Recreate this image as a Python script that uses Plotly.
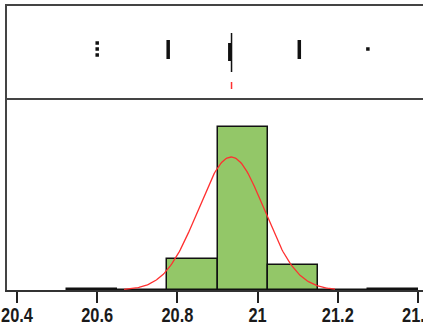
import numpy as np
import plotly.graph_objects as go

# ---- histogram data ----
bin_centers = [20.5875, 20.7125, 20.8375, 20.9625, 21.0875, 21.2125, 21.3375]
bin_counts = [0.25, 0, 6, 32, 5, 0, 0.25]
bin_width = 0.125

# ---- fitted normal ----
fit_mean = 20.934
fit_sd = 0.082
fit_n = 43
fit_lo, fit_hi = 20.667, 21.193

# ---- top strip panel (values and vertical extents in panel units 0..92) ----
dot_x = [20.6, 20.6, 20.6, 21.275]
dot_y = [55, 49, 43, 49]
stack_x = [20.777, 20.9307, 21.104]
stack_lo = [39, 37, 39]
stack_hi = [58, 55, 58]
whisker_x = 20.935
whisker_lo, whisker_hi = 26, 65
mean_x = 20.935
mean_lo, mean_hi = 9, 16

tick_vals = [20.4, 20.6, 20.8, 21.0, 21.2, 21.4]
tick_text = ["20.4", "20.6", "20.8", "21", "21.2", "21.4"]

fig = go.Figure()

fig.add_trace(go.Bar(
    x=bin_centers, y=bin_counts, width=bin_width,
    marker=dict(color="#93C768", line=dict(color="#111111", width=1.5)),
    xaxis="x", yaxis="y", showlegend=False,
))

cx = np.linspace(fit_lo, fit_hi, 200)
cy = fit_n * bin_width / (fit_sd * np.sqrt(2 * np.pi)) * np.exp(-0.5 * ((cx - fit_mean) / fit_sd) ** 2)
fig.add_trace(go.Scatter(
    x=cx, y=cy, mode="lines", line=dict(color="#FF3030", width=1.3),
    xaxis="x", yaxis="y", showlegend=False,
))

# strip panel
fig.add_trace(go.Scatter(
    x=dot_x, y=dot_y, mode="markers",
    marker=dict(symbol="square", size=3.5, color="#111111", line=dict(width=0)),
    xaxis="x2", yaxis="y2", showlegend=False,
))
for sx, lo, hi in zip(stack_x, stack_lo, stack_hi):
    fig.add_trace(go.Scatter(
        x=[sx, sx], y=[lo, hi], mode="lines",
        line=dict(color="#111111", width=3.5),
        xaxis="x2", yaxis="y2", showlegend=False,
    ))
fig.add_trace(go.Scatter(
    x=[whisker_x, whisker_x], y=[whisker_lo, whisker_hi], mode="lines",
    line=dict(color="#111111", width=1.5),
    xaxis="x2", yaxis="y2", showlegend=False,
))
fig.add_trace(go.Scatter(
    x=[mean_x, mean_x], y=[mean_lo, mean_hi], mode="lines",
    line=dict(color="#FF3030", width=1.5),
    xaxis="x2", yaxis="y2", showlegend=False,
))

W, H = 423, 328
ml, mr, mt, mb = 7, 0, 6, 38
plot_h = H - mt - mb
split = (290 - 98) / plot_h
x0 = 20.4 - 10 / 401
x1 = x0 + (W - ml - mr) / 401

fig.update_layout(
    width=W, height=H,
    margin=dict(l=ml, r=mr, t=mt, b=mb, autoexpand=False),
    paper_bgcolor="white", plot_bgcolor="white",
    bargap=0,
    xaxis=dict(
        range=[x0, x1], domain=[0, 1], anchor="y", automargin=False,
        tickvals=tick_vals, ticktext=tick_text, ticklabeloverflow="allow",
        ticks="outside", ticklen=11, tickwidth=2, tickcolor="#222222",
        showline=True, linewidth=1.5, linecolor="#333333",
        showgrid=False, zeroline=False,
        tickfont=dict(family="Liberation Sans, Arial, sans-serif",
                      size=20.5, color="#1a1a1a", weight="bold"),
        ticklabelstandoff=-5,
    ),
    yaxis=dict(
        range=[0, 37.76], domain=[0, split], anchor="x", automargin=False,
        showline=True, linewidth=2, linecolor="#444444",
        showgrid=False, zeroline=False, showticklabels=False, ticks="",
    ),
    xaxis2=dict(
        range=[x0, x1], domain=[0, 1], anchor="y2", matches="x", automargin=False,
        showline=True, mirror=True, linewidth=2, linecolor="#444444",
        showgrid=False, zeroline=False, showticklabels=False, ticks="",
    ),
    yaxis2=dict(
        range=[0, 92], domain=[split, 1], anchor="x2", automargin=False,
        showline=True, linewidth=2, linecolor="#444444",
        showgrid=False, zeroline=False, showticklabels=False, ticks="",
    ),
)

post = """
document.body.style.margin='0';
document.body.style.overflow='hidden';
document.querySelectorAll('.xtick text').forEach(function(t){
  var w = t.getComputedTextLength();
  t.setAttribute('textLength', (w*0.8).toFixed(2));
  t.setAttribute('lengthAdjust', 'spacingAndGlyphs');
});
"""

fig.write_html("out.html", post_script=post, config={"displayModeBar": False})
